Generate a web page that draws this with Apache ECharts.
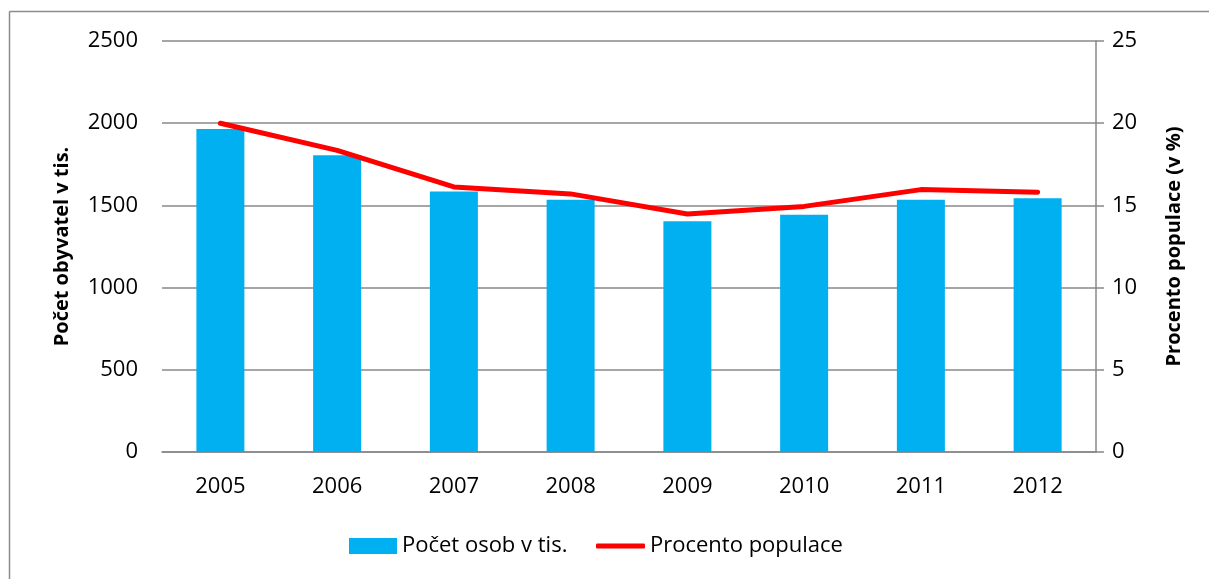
<!DOCTYPE html>
<html><head><meta charset="utf-8">
<script src="https://cdn.jsdelivr.net/npm/echarts@6/dist/echarts.min.js"></script>
<style>html,body{margin:0;padding:0;background:#fff;overflow:hidden}#c{width:1209px;height:579px}</style>
</head><body><div id="c"></div>
<script>
const categories = ['2005','2006','2007','2008','2009','2010','2011','2012'];
const persons = [1965, 1805, 1584, 1535, 1403, 1443, 1535, 1543];
const percent = [20.0, 18.35, 16.12, 15.7, 14.48, 14.94, 15.96, 15.8];
const leftTicks = [0, 500, 1000, 1500, 2000, 2500];
const rightTicks = [0, 5, 10, 15, 20, 25];
const barName = 'Počet osob v tis.';
const lineName = 'Procento populace';
const leftTitle = 'Počet obyvatel v tis.';
const rightTitle = 'Procento populace (v %)';

const FONT = 'Open Sans';
const legendText = {fontFamily: FONT, fontSize: 22, color: '#000'};
const chart = echarts.init(document.getElementById('c'));
chart.setOption({
  animation: false,
  textStyle: {fontFamily: FONT, color: '#000'},
  graphic: [
    {type: 'line', shape: {x1: 9.5, y1: 11.5, x2: 9.5, y2: 579}, style: {stroke: '#8c8c8c', lineWidth: 1.5}, silent: true},
    {type: 'line', shape: {x1: 9.5, y1: 11.5, x2: 1209, y2: 11.5}, style: {stroke: '#8c8c8c', lineWidth: 1.5}, silent: true}
  ],
  grid: {left: 162, right: 113, top: 41, bottom: 127},
  legend: [{
    left: 344, top: 530, itemWidth: 48, itemHeight: 16, itemGap: 5,
    textStyle: legendText,
    data: [{name: barName, icon: 'rect'}]
  }, {
    left: 591, top: 530, itemWidth: 49, itemHeight: 5,
    textStyle: legendText,
    data: [{name: lineName, icon: 'roundRect'}]
  }],
  xAxis: {
    type: 'category', data: categories,
    axisLine: {show: true, lineStyle: {color: '#888', width: 1.5}},
    axisTick: {show: false},
    axisLabel: {fontFamily: FONT, fontSize: 22, color: '#000', margin: 24}
  },
  yAxis: [{
    type: 'value', min: leftTicks[0], max: leftTicks[leftTicks.length-1], interval: 500, position: 'left',
    name: leftTitle, nameLocation: 'middle', nameGap: 90, nameRotate: 90,
    nameTextStyle: {fontFamily: FONT, fontSize: 20, fontWeight: 'bold', color: '#000'},
    axisLine: {show: false}, axisTick: {show: false},
    axisLabel: {fontFamily: FONT, fontSize: 22, color: '#000', margin: 24, formatter: v => String(v)},
    splitLine: {lineStyle: {color: '#888', width: 1.5}}
  }, {
    type: 'value', min: rightTicks[0], max: rightTicks[rightTicks.length-1], interval: 5, position: 'right',
    name: rightTitle, nameLocation: 'middle', nameGap: 68, nameRotate: 90,
    nameTextStyle: {fontFamily: FONT, fontSize: 20, fontWeight: 'bold', color: '#000'},
    axisLine: {show: true, lineStyle: {color: '#888', width: 1.5}},
    axisTick: {show: true, length: 8, lineStyle: {color: '#888', width: 1.5}},
    axisLabel: {fontFamily: FONT, fontSize: 22, color: '#000', margin: 16, formatter: v => String(v)},
    splitLine: {show: false}
  }],
  series: [{
    name: barName, type: 'bar', data: persons, barWidth: 48,
    itemStyle: {color: '#00B0F0'}
  }, {
    name: lineName, type: 'line', yAxisIndex: 1, data: percent,
    symbol: 'none', lineStyle: {color: '#FF0000', width: 5, cap: 'round'}, itemStyle: {color: '#FF0000'}
  }]
});
</script></body></html>
